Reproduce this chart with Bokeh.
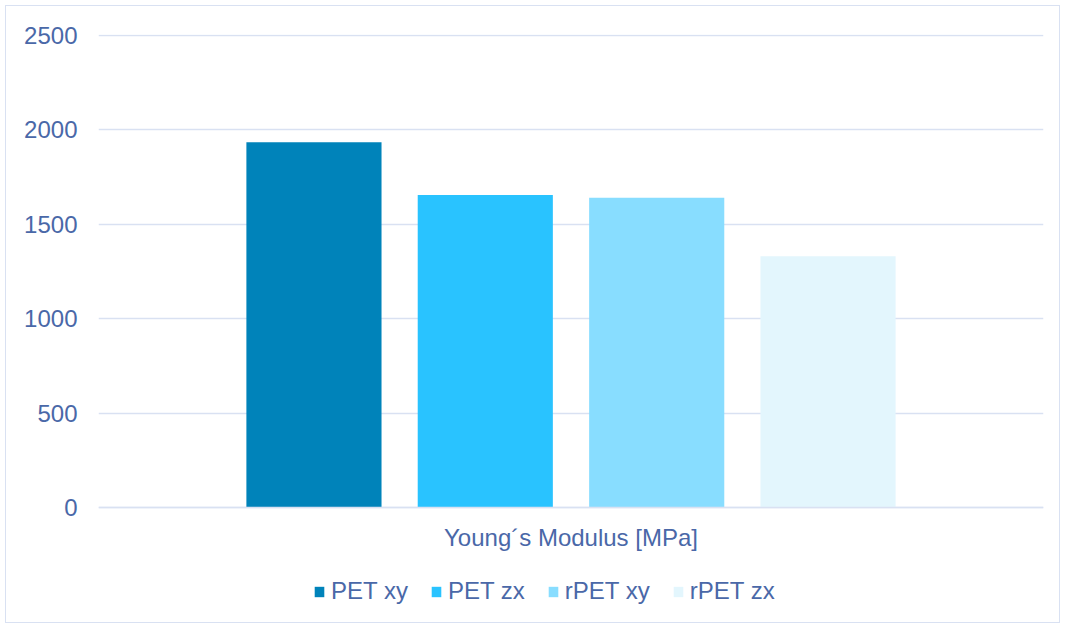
from bokeh.plotting import figure
from bokeh.models import FactorRange, Range1d, Legend, LegendItem, ColumnDataSource, FixedTicker
from bokeh.transform import dodge
from bokeh.embed import file_html
from bokeh.resources import INLINE

category = ["Young´s Modulus [MPa]"]
series = ["PET xy", "PET zx", "rPET xy", "rPET zx"]
values = [1935, 1655, 1640, 1330]
colors = ["#0083BA", "#29C3FF", "#88DDFF", "#E3F6FD"]
yticks = [0, 500, 1000, 1500, 2000, 2500]

TEXT = "#4A68A8"
GRID = "#D9E1F2"
FONT = "Liberation Sans"

p = figure(x_range=FactorRange(factors=category, range_padding=0),
           y_range=Range1d(-556, 2505),
           frame_width=945, frame_height=578,
           min_border_left=92, min_border_right=16,
           min_border_top=28, min_border_bottom=10,
           output_backend="svg", toolbar_location=None)

offsets = [-0.272, -0.0907, 0.0907, 0.272]
items = []
for name, val, col, off in zip(series, values, colors, offsets):
    src = ColumnDataSource(dict(x=category, top=[val]))
    r = p.vbar(x=dodge("x", off, range=p.x_range), top="top", bottom=0, width=0.143,
               source=src, fill_color=col, line_color=None)
    items.append(LegendItem(label=name, renderers=[r]))

legend = Legend(items=items, orientation="horizontal", location=(215, 7),
                label_text_font=FONT, label_text_font_size="24px",
                label_text_color=TEXT, glyph_width=12, glyph_height=13,
                label_height=28, label_standoff=6, spacing=22, padding=0, margin=0,
                border_line_color=None, background_fill_alpha=0)
p.add_layout(legend, "center")

p.outline_line_color = None
p.xgrid.grid_line_color = None
p.ygrid.grid_line_color = GRID
p.ygrid.grid_line_width = 1.5
p.yaxis.ticker = FixedTicker(ticks=yticks)
p.yaxis.axis_line_color = None
p.yaxis.major_tick_line_color = None
p.yaxis.minor_tick_line_color = None
p.yaxis.major_label_standoff = 15
p.yaxis.major_label_text_font = FONT
p.yaxis.major_label_text_font_size = "24px"
p.yaxis.major_label_text_color = TEXT

p.xaxis.fixed_location = 0
p.xaxis.axis_line_color = GRID
p.xaxis.axis_line_width = 1.5
p.xaxis.major_tick_line_color = None
p.xaxis.minor_tick_line_color = None
p.xaxis.major_label_standoff = 10
p.xaxis.major_label_text_font = FONT
p.xaxis.major_label_text_font_size = "24px"
p.xaxis.major_label_text_color = TEXT

p.styles = {"border": "1.5px solid #D9E1F2", "margin-left": "5px", "margin-top": "5px"}

open("out.html", "w").write(file_html(p, INLINE))
